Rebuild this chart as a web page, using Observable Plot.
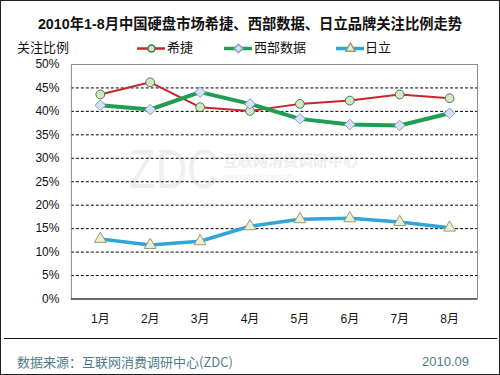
<!DOCTYPE html>
<html>
<head>
<meta charset="utf-8">
<script src="https://cdn.jsdelivr.net/npm/d3@7"></script>
<script src="https://cdn.jsdelivr.net/npm/@observablehq/plot@0.6"></script>
<style>
  html, body { margin: 0; padding: 0; background: #fff; }
  #wrap { position: relative; width: 500px; height: 375px; box-sizing: border-box; border: 1px solid #222; overflow: hidden; font-family: "Liberation Sans", Arial, "Noto Sans CJK SC", sans-serif; }
  #title { position: absolute; left: 0; top: 11px; width: 498px; text-align: center; font-weight: bold; font-size: 14.3px; color: #111; font-family: "Liberation Sans", Arial, "Noto Sans CJK SC", sans-serif; }
  .lg { position: absolute; top: 38px; font-size: 13px; color: #111; line-height: 16px; font-family: "Noto Sans CJK SC", sans-serif; }
  #chart { position: absolute; left: -1px; top: 54px; z-index: 2; }
  #wm1 { position: absolute; left: 128px; top: 140px; font-size: 56px; line-height: 56px; color: #efefef; font-family: "Liberation Sans", Arial, sans-serif; transform: scaleX(0.78); transform-origin: left top; z-index: 1; }
  #wm2 { position: absolute; left: 222px; top: 150px; font-size: 15px; line-height: 18px; font-weight: bold; color: #eeeeee; font-family: "Noto Sans CJK SC", sans-serif; z-index: 1; }
  #wm3 { position: absolute; left: 224px; top: 171px; font-size: 9px; line-height: 10px; color: #f0f0f0; z-index: 1; }
  #sep { position: absolute; left: 3px; top: 337px; width: 493px; height: 0; border-top: 1px solid #111; }
  #src { position: absolute; left: 16px; top: 353px; font-size: 13px; color: #4f7c88; font-family: "Noto Sans CJK SC", sans-serif; line-height: 16px; }
  #date { position: absolute; right: 30px; top: 353px; font-size: 13px; color: #4f7c88; line-height: 16px; font-family: "Liberation Sans", Arial, sans-serif; }
</style>
</head>
<body>
<div id="wrap">
  <div id="title">2010年1-8月中国硬盘市场希捷、西部数据、日立品牌关注比例走势</div>
  <div class="lg" style="left:16px;">关注比例</div>
  <div id="legend"></div>
  <div id="wm1">ZDC</div>
  <div id="wm2">互联网消费调研中心</div>
  <div id="wm3">www.zdc.com.cn</div>
  <div id="chart"></div>
  <div id="sep"></div>
  <div id="src">数据来源：互联网消费调研中心(ZDC)</div>
  <div id="date">2010.09</div>
</div>
<script>
const months = ["1月","2月","3月","4月","5月","6月","7月","8月"];
const seriesNames = ["希捷","西部数据","日立"];
const seagate = [43.6, 46.2, 40.9, 40.1, 41.6, 42.3, 43.6, 42.8];
const wd      = [41.3, 40.4, 44.1, 41.6, 38.4, 37.2, 37.0, 39.6];
const hitachi = [12.8, 11.5, 12.3, 15.5, 17.0, 17.2, 16.4, 15.2];
const yTicks = [0, 5, 10, 15, 20, 25, 30, 35, 40, 45, 50];
const gridTicks = [5, 10, 15, 20, 25, 30, 35, 40, 45];

const styles = {
  "希捷":   {stroke: "#c8262c", width: 2,   symbol: "circle",   r: 4.4, fill: "#d3e8c9", mstroke: "#44794a"},
  "西部数据": {stroke: "#1f9d52", width: 4,   symbol: "diamond2", r: 4.8, fill: "#d6e2f4", mstroke: "#8a9cc8"},
  "日立":   {stroke: "#2fa6d6", width: 3.6, symbol: "triangle", r: 4.4, fill: "#e9f0cf", mstroke: "#9c9a78"}
};

const values = [seagate, wd, hitachi];
const data = [];
seriesNames.forEach((s, i) => months.forEach((m, j) => data.push({series: s, month: m, value: values[i][j]})));

const marks = [
  Plot.ruleY(gridTicks, {stroke: "#000", strokeWidth: 1, strokeDasharray: "3,2"}),
  Plot.frame({stroke: "#8a8a8a"}),
  Plot.ruleY([0], {stroke: "#111", strokeWidth: 1}),
  Plot.axisY({ticks: yTicks, tickFormat: d => d + "%", tickSize: 0, tickPadding: 12, fontSize: 12, fill: "#111", label: null}),
  Plot.axisX({tickSize: 0, tickPadding: 16, fontSize: 12, fill: "#111", label: null})
];
seriesNames.forEach(s => {
  const st = styles[s];
  const d = data.filter(v => v.series === s);
  marks.push(Plot.line(d, {x: "month", y: "value", stroke: st.stroke, strokeWidth: st.width, curve: "linear"}));
});
seriesNames.forEach(s => {
  const st = styles[s];
  const d = data.filter(v => v.series === s);
  marks.push(Plot.dot(d, {x: "month", y: "value", symbol: () => st.symbol, r: st.r, fill: st.fill, stroke: st.mstroke, strokeWidth: 1}));
});

const chart = Plot.plot({
  width: 500,
  height: 282,
  marginLeft: 71,
  marginRight: 22,
  marginTop: 9,
  marginBottom: 38,
  style: {background: "transparent", fontFamily: "Liberation Sans, Arial, Noto Sans CJK SC, sans-serif"},
  x: {type: "point", domain: months, padding: 0.5, axis: null},
  y: {domain: [0, 50], axis: null},
  symbol: {type: "identity"},
  marks
});
document.getElementById("chart").appendChild(chart);

// legend
const legendPos = [{x: 136, tx: 166}, {x: 223, tx: 253}, {x: 335, tx: 364}];
const lg = document.getElementById("legend");
seriesNames.forEach((s, i) => {
  const st = styles[s];
  const p = legendPos[i];
  const sw = Plot.plot({
    width: 28, height: 14, margin: 0,
    x: {domain: [0, 1], axis: null}, y: {domain: [0, 1], axis: null},
    symbol: {type: "identity"},
    style: {background: "transparent", overflow: "visible"},
    marks: [
      Plot.ruleY([0.5], {stroke: st.stroke, strokeWidth: st.width === 2 ? 2.5 : 3.5}),
      Plot.dot([0.5], {x: d => d, y: d => d, symbol: () => st.symbol, r: st.r * 0.8, fill: st.fill, stroke: st.mstroke})
    ]
  });
  sw.style.position = "absolute";
  sw.style.left = p.x + "px";
  sw.style.top = "40px";
  lg.appendChild(sw);
  const t = document.createElement("div");
  t.className = "lg";
  t.style.left = p.tx + "px";
  t.textContent = s;
  lg.appendChild(t);
});
</script>
</body>
</html>
